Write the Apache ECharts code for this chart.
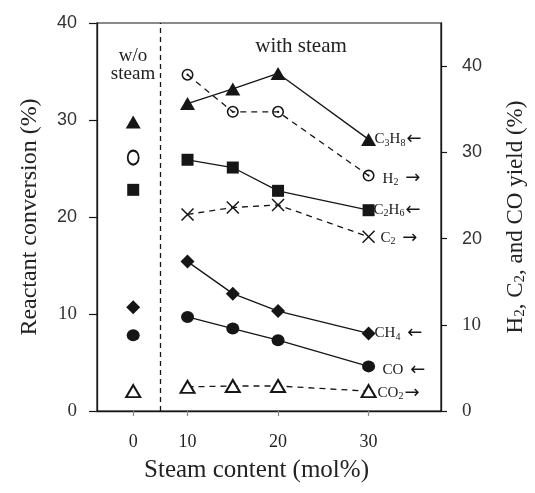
<!DOCTYPE html>
<html>
<head>
<meta charset="utf-8">
<script src="https://cdn.jsdelivr.net/npm/echarts@6/dist/echarts.min.js"></script>
<style>
  html, body { margin: 0; padding: 0; background: #fff; }
  #chart { width: 535px; height: 493px; }
</style>
</head>
<body>
<div id="chart"></div>
<script>
// ---- data ----------------------------------------------------------
const steamLevels = [10, 15, 20, 30];          // mol% steam in the feed
const NO_STEAM_POS = 4;                        // axis slot of the steam-free run (labelled "0")
const DIVIDER_POS = 7;                         // dashed separator between the two regimes
const xTickPositions = [NO_STEAM_POS, 10, 20, 30];
const xTickLabels = ['0', '10', '20', '30'];
const leftTicks = [0, 10, 20, 30, 40];
const rightTicks = [0, 10, 20, 30, 40];

// reactant conversion (%), left axis
const c3h8 = [31.7, 33.2, 34.8, 28.0];
const c3h8Dry = 29.8;
const c2h6 = [25.9, 25.1, 22.7, 20.7];
const c2h6Dry = 22.8;
const ch4 = [15.4, 12.1, 10.3, 8.0];
const ch4Dry = 10.7;
const co = [9.7, 8.5, 7.3, 4.6];
const coDry = 7.8;

// product yield (%), right axis
const h2 = [39.0, 34.7, 34.7, 27.3];
const h2Dry = 29.4;
const c2 = [22.8, 23.6, 23.9, 20.2];
const c2Dry = null;
const co2 = [2.8, 2.9, 2.9, 2.3];
const co2Dry = 2.3;

// ---- styling -------------------------------------------------------
const SERIF = '"Liberation Serif", "DejaVu Serif", serif';
const SANS = '"Liberation Sans", Arial, sans-serif';
const ARROW_FONT = '"DejaVu Sans", sans-serif';
const INK = '#161616';

const labelRich = {
  m: { fontFamily: SERIF, fontSize: 15, color: INK, lineHeight: 17 },
  s: { fontFamily: SERIF, fontSize: 10, color: INK, verticalAlign: 'bottom', lineHeight: 17, padding: [5, 0, 0, 0] },
  a: { fontFamily: ARROW_FONT, fontSize: 18, color: INK, lineHeight: 17, padding: [0, 0, 0, 1] }
};

const ringDot = 'path://M10,0A10,10,0,1,1,10,20A10,10,0,1,1,10,0Z' +
  'M10,2.6A7.4,7.4,0,1,0,10,17.4A7.4,7.4,0,1,0,10,2.6Z' +
  'M10,8.1A1.9,1.9,0,1,1,10,11.9A1.9,1.9,0,1,1,10,8.1Z';
const cross = 'path://M0,0L10,10M10,0L0,10';

const filled = { color: INK, opacity: 1 };
const hollow = { color: INK, borderColor: INK, borderWidth: 1.4, opacity: 1 };

const species = [
  { name: 'C3H8', text: '{m|C}{s|3}{m|H}{s|8}{a|←}', steam: c3h8, dry: c3h8Dry, axis: 0,
    symbol: 'triangle', size: [15, 13], item: filled, dashed: false, gap: 6, shift: [0, 0] },
  { name: 'H2', text: '{m|H}{s|2}{a| →}', steam: h2, dry: h2Dry, axis: 1,
    symbol: ringDot, size: 12, item: filled, dashed: true, gap: 14, shift: [0, 3],
    drySymbol: 'emptyCircle', drySize: [11, 14], dryItem: hollow },
  { name: 'C2H6', text: '{m|C}{s|2}{m|H}{s|6}{a|←}', steam: c2h6, dry: c2h6Dry, axis: 0,
    symbol: 'rect', size: 12, item: filled, dashed: false, gap: 5, shift: [0, 0] },
  { name: 'C2', text: '{m|C}{s|2}{a| →}', steam: c2, dry: c2Dry, axis: 1,
    symbol: cross, size: 12, item: { color: 'none', borderColor: INK, borderWidth: 1.5, opacity: 1 }, dashed: true, gap: 12, shift: [0, 1] },
  { name: 'CH4', text: '{m|CH}{s|4}{a| ←}', steam: ch4, dry: ch4Dry, axis: 0,
    symbol: 'diamond', size: 14, item: filled, dashed: false, gap: 6, shift: [0, 0] },
  { name: 'CO', text: '{m|CO}{a| ←}', steam: co, dry: coDry, axis: 0,
    symbol: 'circle', size: [13, 12], item: filled, dashed: false, gap: 14, shift: [0, 4] },
  { name: 'CO2', text: '{m|CO}{s|2}{a|→}', steam: co2, dry: co2Dry, axis: 1,
    symbol: 'emptyTriangle', size: [14, 12], item: hollow, dashed: true, gap: 9, shift: [0, 2] }
];

const series = [];
species.forEach((sp, k) => {
  series.push({
    name: sp.name,
    type: 'line',
    yAxisIndex: sp.axis,
    data: steamLevels.map((x, i) => [x, sp.steam[i]]),
    symbol: sp.symbol,
    symbolSize: sp.size,
    showAllSymbol: true,
    lineStyle: { color: INK, width: 1.3, type: sp.dashed ? [6, 5] : 'solid' },
    itemStyle: sp.item,
    endLabel: {
      show: true,
      formatter: sp.text,
      rich: labelRich,
      distance: sp.gap,
      offset: sp.shift
    },
    markLine: k === 0 ? {
      silent: true,
      symbol: ['none', 'none'],
      label: { show: false },
      lineStyle: { color: INK, width: 1.3, type: [5, 4] },
      data: [{ xAxis: DIVIDER_POS }]
    } : undefined,
    z: 3
  });
  if (sp.dry !== null) {
    series.push({
      name: sp.name + ' (no steam)',
      type: 'scatter',
      yAxisIndex: sp.axis,
      data: [[NO_STEAM_POS, sp.dry]],
      symbol: sp.drySymbol || sp.symbol,
      symbolSize: sp.drySize || sp.size,
      itemStyle: sp.dryItem || sp.item,
      z: 3
    });
  }
});

const tickLabelRich = {
  sans: { fontFamily: SANS, fontSize: 18, color: '#333' },
  serif: { fontFamily: SERIF, fontSize: 19, color: '#333' }
};
const yTickFormatter = v => (v >= 20 ? '{sans|' + v + '}' : '{serif|' + v + '}');

const chart = echarts.init(document.getElementById('chart'), null, { renderer: 'canvas' });
chart.setOption({
  animation: false,
  backgroundColor: '#fff',
  grid: {
    left: 97, right: 94, top: 23, bottom: 82,
    show: true, borderColor: INK, borderWidth: 1.2,
    outerBoundsMode: 'none'
  },
  xAxis: {
    type: 'value',
    min: 0, max: 38,
    axisLine: { onZero: false, lineStyle: { color: INK, width: 1.3 } },
    axisTick: { customValues: xTickPositions, length: 5, lineStyle: { color: '#888', width: 1.2 } },
    axisLabel: {
      customValues: xTickPositions,
      formatter: v => xTickLabels[xTickPositions.indexOf(v)],
      margin: 22,
      fontFamily: SERIF, fontSize: 18, color: '#222'
    },
    splitLine: { show: false },
    name: 'Steam content (mol%)',
    nameLocation: 'middle',
    nameGap: 47,
    nameTextStyle: { fontFamily: SERIF, fontSize: 25, color: '#222', padding: [0, 25, 0, 0] }
  },
  yAxis: [
    {
      type: 'value',
      min: 0, max: 40, interval: 10,
      axisLine: { show: true, lineStyle: { color: INK, width: 1.3 } },
      axisTick: { show: true, length: 8, lineStyle: { color: INK, width: 1.2 } },
      axisLabel: { customValues: leftTicks, formatter: yTickFormatter, rich: tickLabelRich, margin: 20 },
      splitLine: { show: false },
      name: 'Reactant conversion (%)',
      nameLocation: 'middle',
      nameRotate: 90,
      nameGap: 55,
      nameTextStyle: { fontFamily: SERIF, fontSize: 24, color: '#222' }
    },
    {
      type: 'value',
      position: 'right',
      min: 0, max: 45,
      axisLine: { show: true, lineStyle: { color: INK, width: 1.3 } },
      axisTick: { show: true, customValues: rightTicks, length: 6, lineStyle: { color: INK, width: 1.2 } },
      axisLabel: { customValues: rightTicks, formatter: yTickFormatter, rich: tickLabelRich, margin: 21 },
      splitLine: { show: false },
      name: 'H{s|2}, C{s|2}, and CO yield (%)',
      nameLocation: 'middle',
      nameRotate: 90,
      nameGap: 63,
      nameTextStyle: {
        fontFamily: SERIF, fontSize: 23, color: '#222',
        rich: { s: { fontFamily: SERIF, fontSize: 15, color: '#222', verticalAlign: 'bottom', padding: [9, 0, 0, 0] } }
      }
    }
  ],
  graphic: [
    { type: 'text', x: 133, y: 56, style: { text: 'w/o', font: '19px ' + SERIF, fill: '#222', align: 'center', verticalAlign: 'middle' } },
    { type: 'text', x: 133, y: 74, style: { text: 'steam', font: '19px ' + SERIF, fill: '#222', align: 'center', verticalAlign: 'middle' } },
    { type: 'text', x: 301, y: 46, style: { text: 'with steam', font: '21px ' + SERIF, fill: '#222', align: 'center', verticalAlign: 'middle' } }
  ],
  series: series
});
</script>
</body>
</html>
